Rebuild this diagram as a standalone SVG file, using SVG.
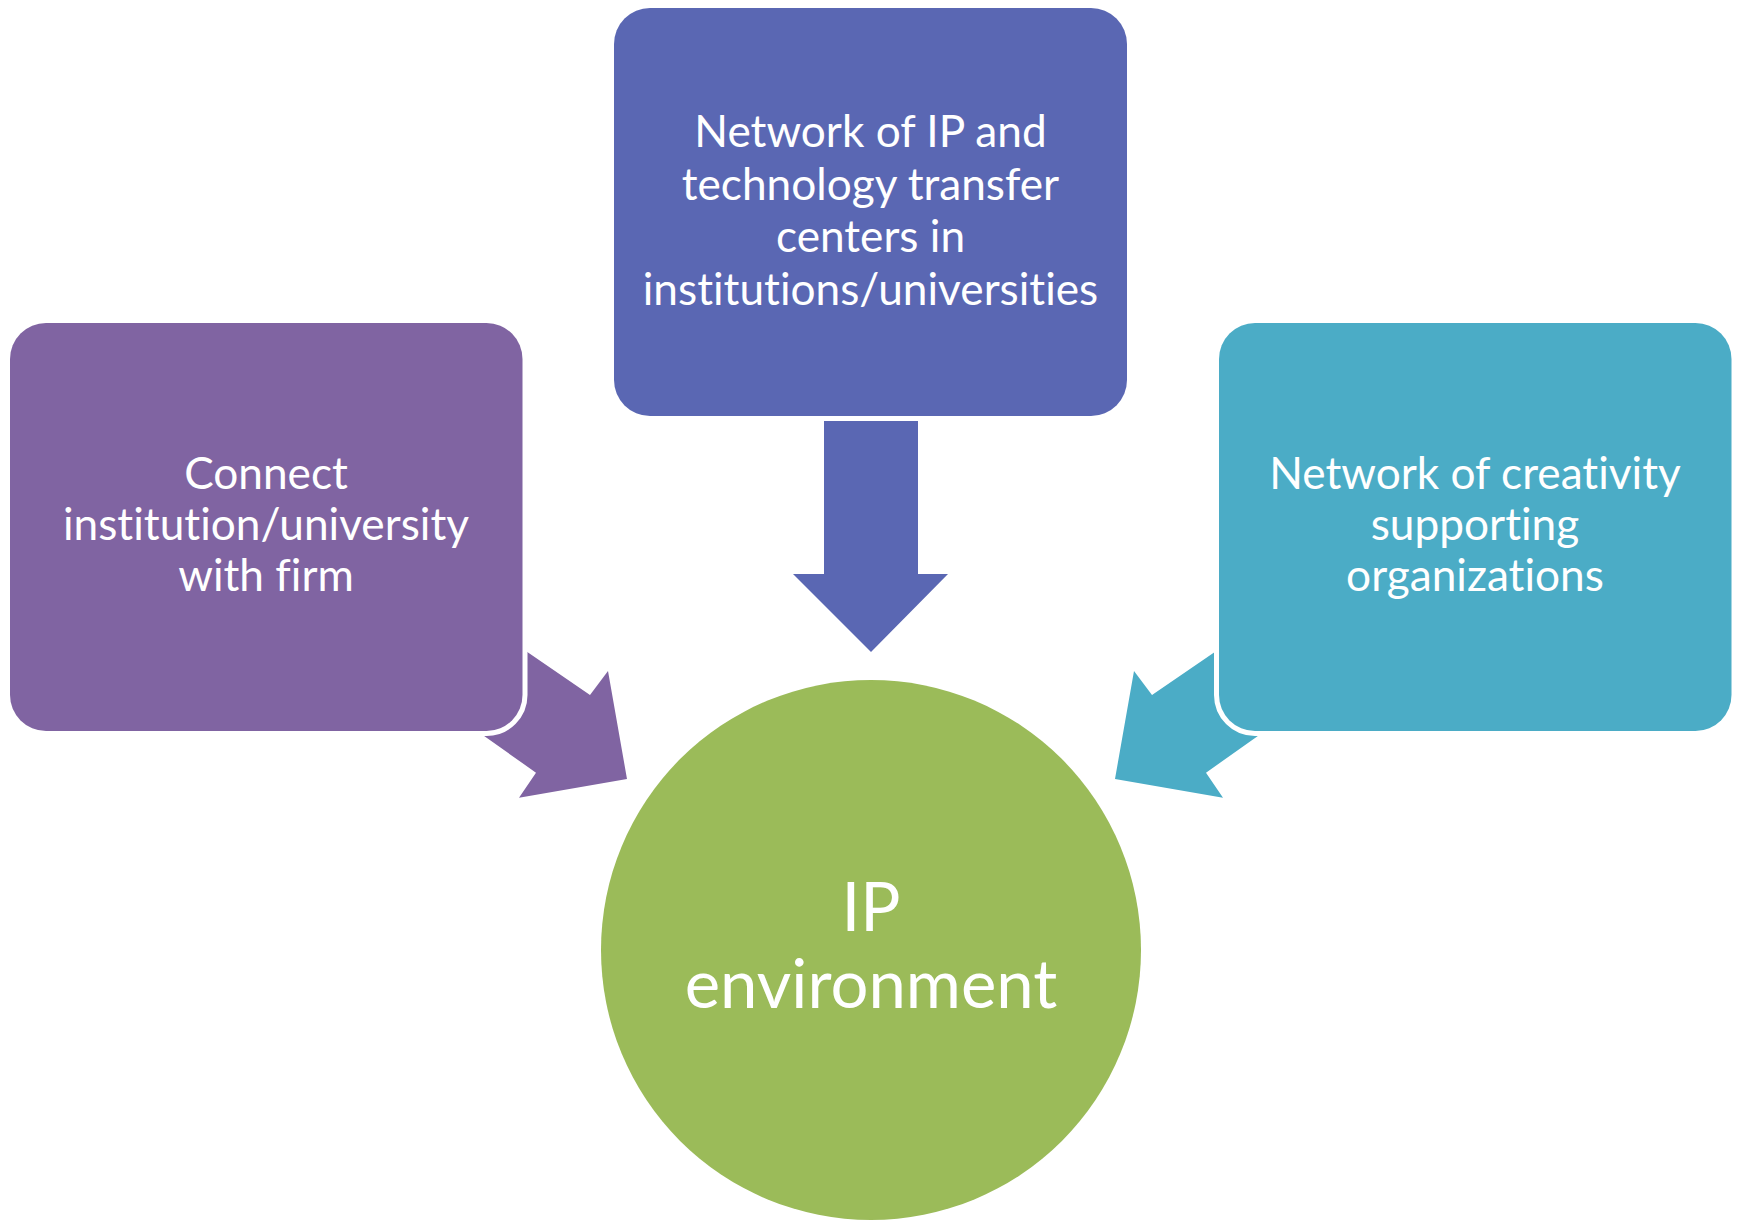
<svg xmlns="http://www.w3.org/2000/svg" width="1739" height="1220" viewBox="0 0 1739 1220">
  <style>
    .box { stroke: #FFFFFF; stroke-width: 10; paint-order: stroke; }
    .lbl { font-family: Lato, "Open Sans", "Liberation Sans", sans-serif; fill: #FFFFFF; text-anchor: middle; font-size: 44.2px; font-variant-ligatures: none; }
    .big { font-size: 67px; }
  </style>
  <rect width="1739" height="1220" fill="#FFFFFF"/>
  <g id="connectors">
    <polygon id="arrow-top" points="824,400 918,400 918,574 948,574 871,652 793,574 824,574" fill="#5A67B3"/>
    <polygon id="arrow-left" points="479,619 590,695 608,671 627,779 519,797.7 536,772.7 436,702" fill="#8064A2"/>
    <polygon id="arrow-right" points="1263,619 1152,695 1134,671 1115,779 1223,797.7 1206,772.7 1306,702" fill="#4BACC6"/>
  </g>
  <g id="node-top">
    <rect class="box" x="614" y="8" width="513" height="408" rx="36" ry="36" fill="#5A67B3"/>
    <text class="lbl" x="870.5" y="147">Network of IP and</text>
    <text class="lbl" x="870.5" y="199.5">technology transfer</text>
    <text class="lbl" x="870.5" y="252">centers in</text>
    <text class="lbl" x="870.5" y="304.5">institutions/universities</text>
  </g>
  <g id="node-left">
    <rect class="box" x="10" y="323" width="512.5" height="408" rx="36" ry="36" fill="#8064A2"/>
    <text class="lbl" x="266" y="488.5">Connect</text>
    <text class="lbl" x="266" y="539.5">institution/university</text>
    <text class="lbl" x="266" y="591">with firm</text>
  </g>
  <g id="node-right">
    <rect class="box" x="1219" y="323" width="512.5" height="408" rx="36" ry="36" fill="#4BACC6"/>
    <text class="lbl" x="1475" y="488.5">Network of creativity</text>
    <text class="lbl" x="1475" y="539.5">supporting</text>
    <text class="lbl" x="1475" y="591">organizations</text>
  </g>
  <g id="node-center">
    <circle cx="871" cy="950" r="270" fill="#9BBB59"/>
    <text class="lbl big" x="871" y="930.7">IP</text>
    <text class="lbl big" x="871" y="1008.3">environment</text>
  </g>
</svg>
